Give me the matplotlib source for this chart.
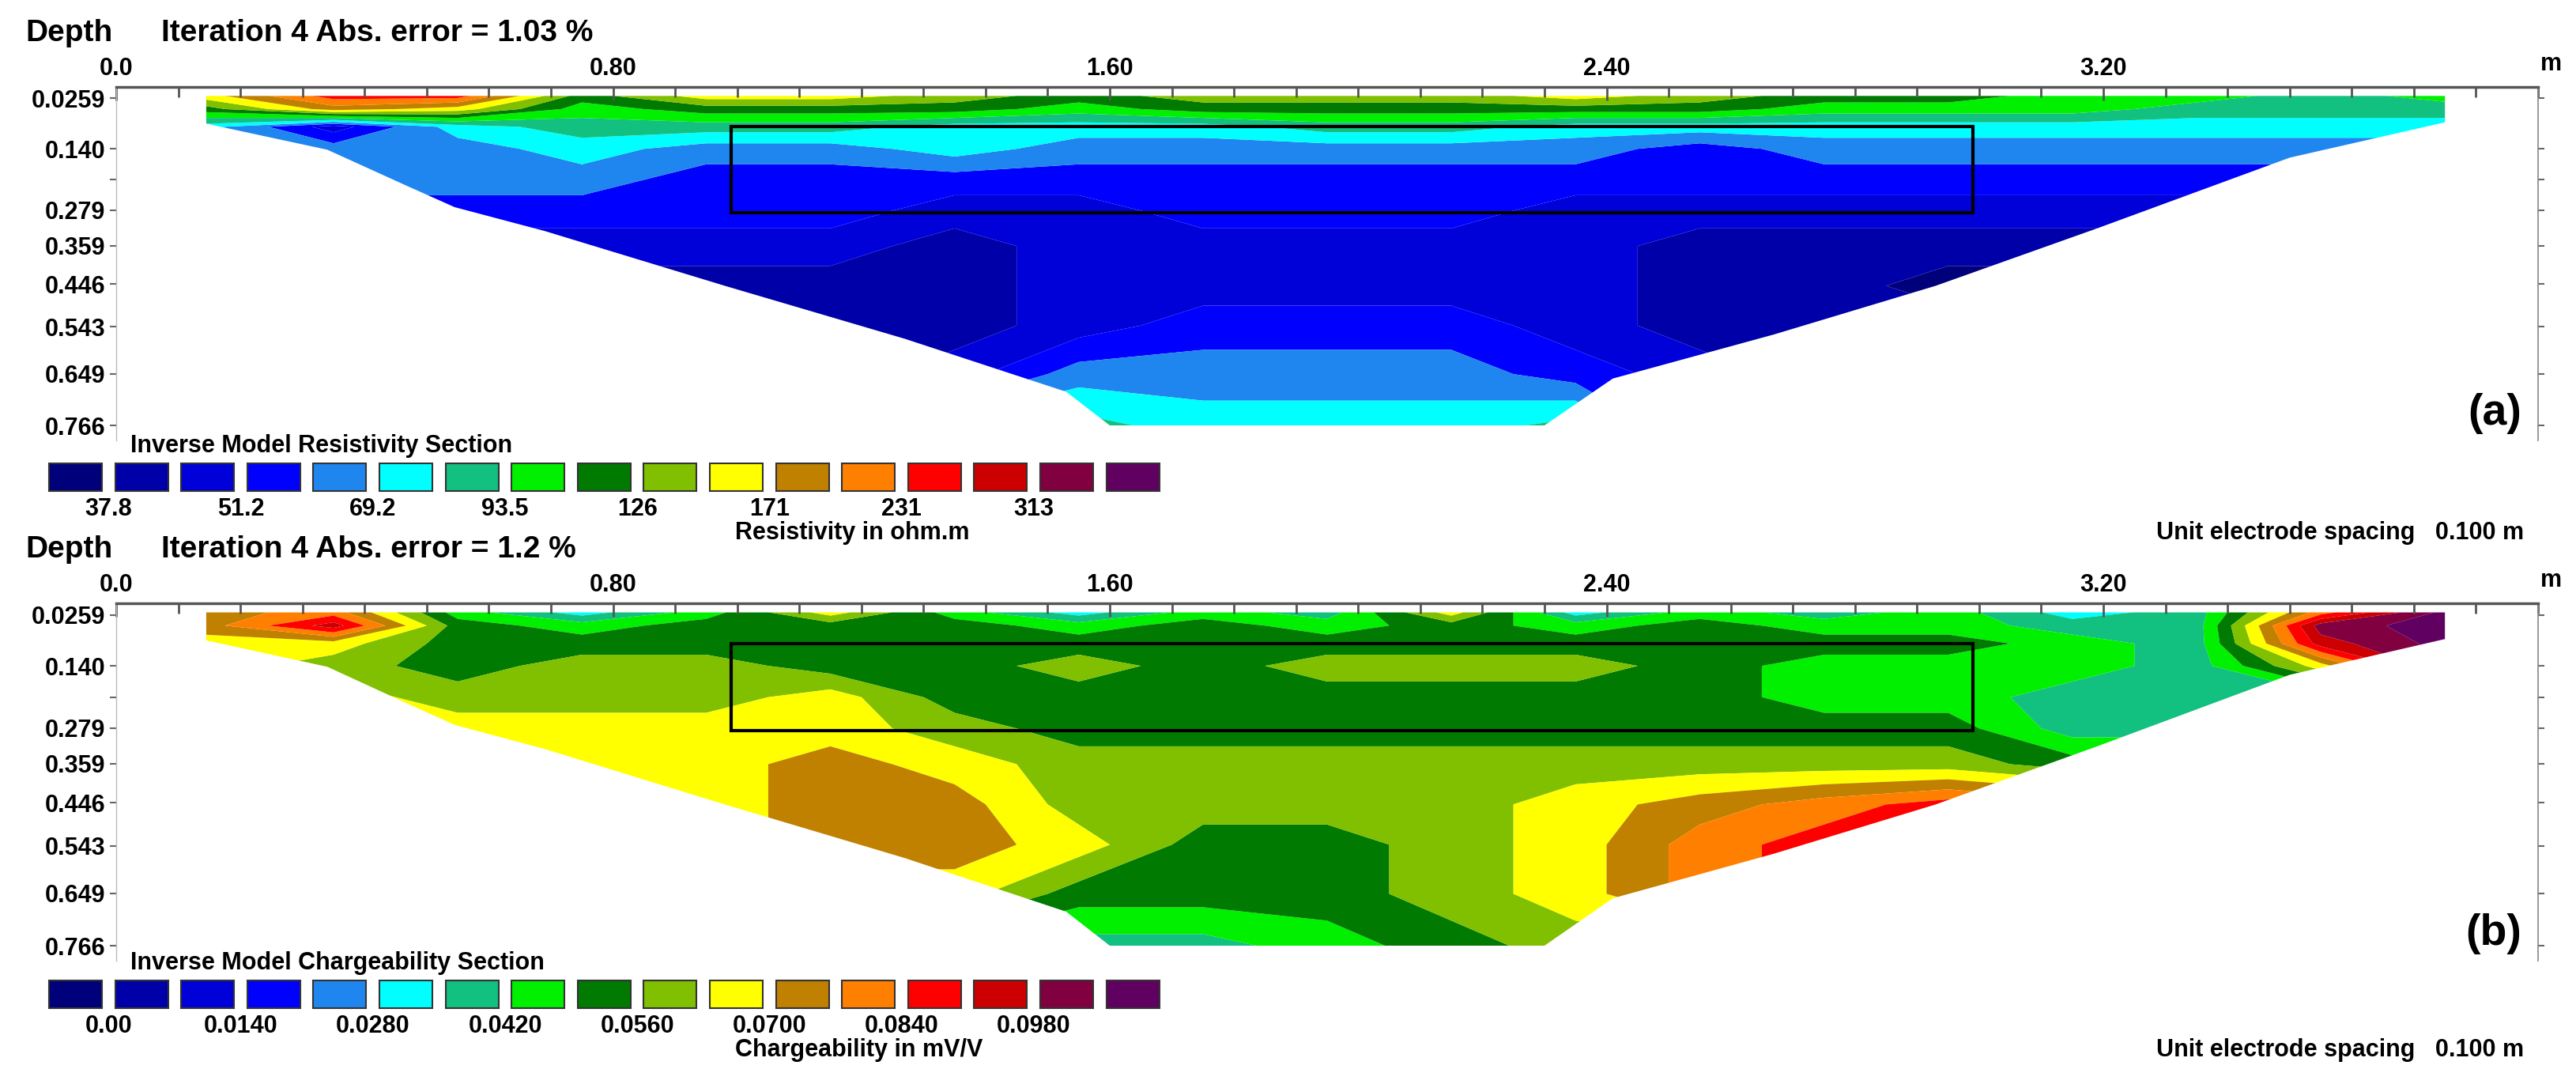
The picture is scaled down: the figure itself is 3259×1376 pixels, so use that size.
import matplotlib
matplotlib.use("Agg")
import matplotlib.pyplot as plt
import numpy as np
from matplotlib.colors import ListedColormap, BoundaryNorm
from matplotlib.patches import Polygon, Rectangle

plt.rcParams['font.family'] = ['Liberation Sans Narrow', 'Liberation Sans', 'DejaVu Sans']
plt.rcParams['font.weight'] = 'bold'

W, H = 3259, 1376

# ---------------- data ----------------
colors = ['#00007a', '#0000a8', '#0000d8', '#0000ff', '#1f86f0', '#00ffff', '#12c080',
          '#00f000', '#007a00', '#80c000', '#ffff00', '#c08000', '#ff8000', '#ff0000',
          '#cc0000', '#800040', '#600060']
res_labels = ['37.8', '51.2', '69.2', '93.5', '126', '171', '231', '313']
chg_labels = ['0.00', '0.0140', '0.0280', '0.0420', '0.0560', '0.0700', '0.0840', '0.0980']

x_nodes = [0.14, 0.35, 0.55, 0.75, 0.95, 1.15, 1.35, 1.55, 1.75, 1.95, 2.15, 2.35, 2.55,
           2.75, 2.95, 3.15, 3.35, 3.55, 3.76]
depth_nodes = [0.02, 0.05, 0.09, 0.14, 0.21, 0.28, 0.36, 0.45, 0.54, 0.65, 0.77]

# colour class (legend swatch index) grids
res_class = [
    [10, 13, 13, 8, 10, 10, 9, 8, 9, 9, 9, 10, 9, 8, 8, 7, 7, 6, 7],
    [8, 11, 10, 7, 8, 8, 8, 7, 8, 8, 8, 8, 8, 7, 7, 7, 6, 6, 6],
    [5, 2, 5, 6, 6, 6, 5, 5, 5, 6, 6, 5, 5, 5, 5, 5, 5, 5, 5],
    [4, 4, 4, 5, 4, 4, 5, 4, 4, 4, 4, 4, 3, 4, 4, 4, 4, 4, 4],
    [4, 4, 4, 4, 3, 3, 3, 3, 3, 3, 3, 3, 3, 3, 3, 3, 3, 3, 4],
    [3, 3, 3, 3, 3, 3, 2, 2, 3, 3, 3, 2, 2, 2, 2, 2, 2, 2, 3],
    [2, 2, 2, 2, 2, 2, 1, 2, 2, 2, 2, 2, 1, 1, 1, 1, 1, 1, 2],
    [1, 1, 1, 1, 1, 1, 1, 2, 2, 2, 2, 2, 1, 1, 0, 0, 1, 1, 1],
    [1, 1, 1, 1, 1, 1, 1, 2, 3, 3, 3, 2, 1, 1, 1, 1, 1, 1, 1],
    [1, 1, 1, 1, 1, 1, 2, 4, 4, 4, 4, 3, 2, 1, 1, 1, 1, 1, 1],
    [1, 1, 1, 1, 1, 2, 5, 6, 5, 5, 5, 6, 2, 1, 1, 1, 1, 1, 1],
]
chg_class = [
    [11, 12, 7, 5, 7, 10, 7, 5, 7, 6, 10, 5, 7, 6, 7, 5, 6, 12, 16],
    [11, 14, 8, 7, 8, 8, 8, 7, 8, 7, 8, 7, 8, 7, 7, 6, 6, 15, 16],
    [10, 10, 8, 8, 8, 8, 8, 8, 8, 8, 8, 8, 8, 8, 8, 7, 6, 14, 16],
    [10, 9, 8, 9, 9, 8, 8, 9, 8, 9, 9, 9, 8, 7, 7, 7, 6, 10, 16],
    [10, 10, 9, 9, 9, 10, 8, 8, 8, 8, 8, 8, 8, 7, 7, 6, 6, 6, 7],
    [10, 10, 10, 10, 10, 10, 9, 8, 8, 8, 8, 8, 8, 8, 8, 6, 6, 6, 6],
    [10, 10, 10, 10, 10, 11, 10, 9, 9, 9, 9, 9, 9, 9, 9, 8, 8, 7, 7],
    [10, 10, 10, 10, 10, 11, 11, 9, 9, 9, 9, 10, 11, 12, 13, 12, 9, 9, 9],
    [10, 10, 10, 10, 10, 11, 11, 10, 8, 8, 9, 10, 12, 13, 14, 13, 10, 10, 10],
    [10, 10, 10, 10, 10, 10, 10, 8, 8, 8, 9, 10, 12, 13, 13, 12, 10, 10, 10],
    [9, 9, 9, 9, 9, 9, 7, 6, 6, 7, 8, 9, 9, 9, 9, 9, 9, 9, 9],
]
# outline of the section
outline_x = [0.145, 0.34, 0.47, 0.545, 0.69, 0.98, 1.27, 1.53, 1.60, 2.30, 2.41, 2.67, 2.93,
             3.19, 3.50, 3.75, 3.75, 0.145]
outline_d = [0.083, 0.142, 0.225, 0.272, 0.326, 0.45, 0.57, 0.69, 0.766, 0.766, 0.66, 0.56,
             0.45, 0.32, 0.16, 0.08, 0.02, 0.02]
box_x = [0.99, 2.99]
box_d = [0.09, 0.285]
depth_ticks = [0.0259, 0.140, 0.279, 0.359, 0.446, 0.543, 0.649, 0.766]
depth_labels = ['0.0259', '0.140', '0.279', '0.359', '0.446', '0.543', '0.649', '0.766']
x_ticks = [0.0, 0.80, 1.60, 2.40, 3.20]
x_labels = ['0.0', '0.80', '1.60', '2.40', '3.20']

# ---------------- drawing ----------------
fig = plt.figure(figsize=(W / 100, H / 100), dpi=100)
cmap = ListedColormap(colors)
norm = BoundaryNorm(np.arange(-0.5, 17.5, 1), cmap.N)


def fx(px):
    return px / W


def fy(py):
    return 1 - py / H


def panel(top0, y766, grid, title, tag, sec_title, unit_text, labels, leg_top):
    left, right = 147, 3211
    ybot = top0 + (y766 - top0) * 0.80 / 0.766
    ax = fig.add_axes([fx(left), fy(ybot), fx(right - left), (ybot - top0) / H])
    ax.set_xlim(0, 3.9)
    ax.set_ylim(0.80, 0)
    X, D = np.meshgrid(x_nodes, depth_nodes)
    cs = ax.contourf(X, D, np.array(grid, float), levels=np.arange(-0.5, 17.5, 1),
                     cmap=cmap, norm=norm, antialiased=True)
    poly = Polygon(list(zip(outline_x, outline_d)), closed=True, transform=ax.transData,
                   facecolor='none', edgecolor='none')
    ax.add_patch(poly)
    cs.set_clip_path(poly)
    ax.add_patch(Rectangle((box_x[0], box_d[0]), box_x[1] - box_x[0], box_d[1] - box_d[0],
                           fill=False, edgecolor='black', lw=3, zorder=5))
    ax.spines['bottom'].set_visible(False)
    ax.spines['top'].set_color('#555555')
    ax.spines['top'].set_linewidth(2.5)
    ax.spines['left'].set_color('#bbbbbb')
    ax.spines['right'].set_color('#888888')
    ax.spines['left'].set_linewidth(1)
    ax.spines['right'].set_linewidth(1.2)
    ax.xaxis.tick_top()
    ax.set_xticks(x_ticks)
    ax.set_xticklabels(x_labels, fontsize=22, fontweight='bold')
    ax.set_xticks(np.arange(0, 3.95, 0.1), minor=True)
    ax.tick_params(axis='x', which='major', direction='in', length=12, width=2, pad=6,
                   color='#555555')
    ax.tick_params(axis='x', which='minor', direction='in', length=9, width=2, color='#555555')
    ax.set_yticks(depth_ticks)
    ax.set_yticklabels(depth_labels, fontsize=22, fontweight='bold')
    ax.set_yticks([0.21], minor=True)
    ax.tick_params(axis='y', which='both', direction='out', length=6, width=1.5, color='#666666',
                   right=True, pad=4)
    ax.annotate('m', xy=(3.9, 0), xytext=(2, 10), textcoords='offset points',
                fontsize=22, fontweight='bold', ha='left', va='bottom', annotation_clip=False)
    fig.text(fx(32), fy(top0 - 68), 'Depth', fontsize=28, fontweight='bold', va='center')
    fig.text(fx(204), fy(top0 - 68), title, fontsize=28, fontweight='bold', va='center')
    fig.text(fx(3190), fy(y766 - 15), tag, fontsize=40, fontweight='bold', ha='right',
             va='center')
    # legend
    fig.text(fx(165), fy(leg_top - 22), sec_title, fontsize=22, fontweight='bold', va='center')
    for i, c in enumerate(colors):
        fig.patches.append(Rectangle((fx(62 + 83.6 * i), fy(leg_top + 35)), fx(67), 35 / H,
                                     transform=fig.transFigure, facecolor=c,
                                     edgecolor='#333333', lw=1.5))
    for k, lab in enumerate(labels):
        i = 2 * k + 1
        fig.text(fx(62 + 83.6 * i - 8), fy(leg_top + 58), lab, fontsize=22, fontweight='bold',
                 ha='center', va='center')
    fig.text(fx(930), fy(leg_top + 88), unit_text, fontsize=22, fontweight='bold', va='center')
    fig.text(fx(3193), fy(leg_top + 88), 'Unit electrode spacing   0.100 m', fontsize=22,
             fontweight='bold', ha='right', va='center')
    return ax


panel(110, 538, res_class, 'Iteration 4 Abs. error = 1.03 %', '(a)',
      'Inverse Model Resistivity Section', 'Resistivity in ohm.m', res_labels, 586)
panel(763, 1196, chg_class, 'Iteration 4 Abs. error = 1.2 %', '(b)',
      'Inverse Model Chargeability Section', 'Chargeability in mV/V', chg_labels, 1240)

fig.savefig('out.png', dpi=100)
